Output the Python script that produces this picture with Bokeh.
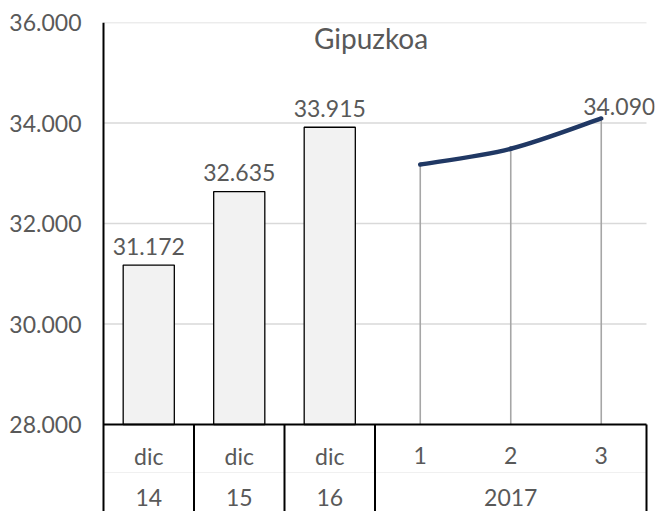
from bokeh.plotting import figure
from bokeh.models import FactorRange, Range1d, FixedTicker, ColumnDataSource
from bokeh.core.properties import value
from bokeh.embed import file_html
from bokeh.resources import INLINE

# ---------------- data ----------------
outer_groups = ["14", "15", "16", "2017"]
bar_inner = ["dic", "dic", "dic"]
bar_groups = ["14", "15", "16"]
bar_values = [31172, 32635, 33915]
line_inner = ["1", "2", "3"]
line_group = "2017"
line_values = [33174, 33487, 34090]
y_ticks = [28000, 30000, 32000, 34000, 36000]
y_tick_labels = ["28.000", "30.000", "32.000", "34.000", "36.000"]
title_text = "Gipuzkoa"

# ---------------- style ----------------
FONT = "Lato"
TXT = "#595959"
LBL_SIZE = "23px"
bar_factors = [(g, i) for g, i in zip(bar_groups, bar_inner)]
line_factors = [(line_group, i) for i in line_inner]
factors = bar_factors + line_factors

def fmt(v):
    return f"{v:,}".replace(",", ".")

y_min, y_max = y_ticks[0], y_ticks[-1]
frame_h = 489
px_per_unit = 402 / (y_max - y_min)
y_start = y_max - frame_h / px_per_unit
row1_y = y_min - 31 / px_per_unit
row2_y = y_min - 73 / px_per_unit
row_sep_y = y_min - 48 / px_per_unit

cat_px = 543 / len(factors)      # pixel width of one category
pad_px = 8                       # room so the last label is not clipped
x_left = list(factors[0]) + [-0.5]
x_right = list(factors[-1]) + [0.5]

p = figure(width=669, height=511,
           x_range=FactorRange(factors=factors, factor_padding=0, group_padding=0,
                               subgroup_padding=0, range_padding=pad_px / cat_px,
                               range_padding_units="absolute"),
           y_range=Range1d(y_start, y_max),
           output_backend="svg", toolbar_location=None, x_axis_location=None,
           min_border_left=103 - pad_px, min_border_right=23 - pad_px,
           min_border_top=22, min_border_bottom=0)
p.outline_line_color = None
p.background_fill_color = "white"
p.border_fill_color = "white"
p.xgrid.visible = False
p.ygrid.visible = False

# y axis (labels only; line drawn at the first category edge)
p.yaxis.ticker = FixedTicker(ticks=y_ticks)
p.yaxis.major_label_overrides = {t: l for t, l in zip(y_ticks, y_tick_labels)}
p.yaxis.major_tick_out = 0
p.yaxis.major_tick_in = 0
p.yaxis.minor_tick_line_color = None
p.yaxis.axis_line_color = None
p.yaxis.major_label_standoff = 22 - pad_px
p.yaxis.major_label_text_font = FONT
p.yaxis.major_label_text_font_size = LBL_SIZE
p.yaxis.major_label_text_color = TXT

# horizontal gridlines
gt = y_ticks[1:]
p.segment(x0=[x_left] * len(gt), y0=gt, x1=[x_right] * len(gt), y1=gt,
          line_color="#d9d9d9", line_width=1.5)

# table faint row separator
p.segment(x0=[x_left], y0=[row_sep_y], x1=[x_right], y1=[row_sep_y],
          line_color="#f0f0f0", line_width=1)

# bars
bsrc = ColumnDataSource(dict(x=bar_factors, top=bar_values,
                             lbl=[fmt(v) for v in bar_values]))
p.vbar(x="x", top="top", bottom=y_min, width=0.565, source=bsrc,
       fill_color="#f2f2f2", line_color="black", line_width=1.3)
p.text(x="x", y="top", text="lbl", source=bsrc, text_align="center",
       text_baseline="alphabetic", y_offset=-19, text_font=value(FONT),
       text_font_size=LBL_SIZE, text_color=TXT)

# drop lines
lsrc = ColumnDataSource(dict(x=line_factors, y=line_values))
p.segment(x0="x", y0=y_min, x1="x", y1="y", source=lsrc,
          line_color="#a6a6a6", line_width=1.6)

# smooth line (Catmull-Rom through the data points)
n = len(line_values)
bz = dict(x0=[], y0=[], x1=[], y1=[], cx0=[], cy0=[], cx1=[], cy1=[])
for i in range(n - 1):
    pr = max(i - 1, 0)
    nx = min(i + 2, n - 1)
    bz["x0"].append(list(line_factors[i]))
    bz["y0"].append(line_values[i])
    bz["x1"].append(list(line_factors[i + 1]))
    bz["y1"].append(line_values[i + 1])
    bz["cx0"].append(list(line_factors[i]) + [((i + 1) - pr) / 6])
    bz["cy0"].append(line_values[i] + (line_values[i + 1] - line_values[pr]) / 6)
    bz["cx1"].append(list(line_factors[i + 1]) + [-(nx - i) / 6])
    bz["cy1"].append(line_values[i + 1] - (line_values[nx] - line_values[i]) / 6)
p.bezier(x0="x0", y0="y0", x1="x1", y1="y1", cx0="cx0", cy0="cy0",
         cx1="cx1", cy1="cy1", source=ColumnDataSource(bz),
         line_color="#203864", line_width=4.5, line_cap="round")

# last point label
p.text(x=[line_factors[-1]], y=[line_values[-1]], text=[fmt(line_values[-1])],
       text_align="center", text_baseline="alphabetic", x_offset=18, y_offset=-12,
       text_font=value(FONT), text_font_size=LBL_SIZE, text_color=TXT)

# x axis line at base and y axis line
p.segment(x0=[x_left], y0=[y_min], x1=[x_right], y1=[y_min],
          line_color="black", line_width=2)
p.segment(x0=[x_left], y0=[y_start], x1=[x_left], y1=[y_max],
          line_color="black", line_width=2)

# category table: separators and labels
sep_x = []
for g in outer_groups:
    members = [f for f in factors if f[0] == g]
    sep_x.append(list(members[-1]) + [0.5])
p.segment(x0=sep_x, y0=[y_start] * len(sep_x), x1=sep_x, y1=[y_min] * len(sep_x),
          line_color="black", line_width=2)

p.text(x=factors, y=[row1_y] * len(factors), text=[f[1] for f in factors],
       text_align="center", text_baseline="middle", text_font=value(FONT),
       text_font_size=LBL_SIZE, text_color=TXT)
outer_x = []
for g in outer_groups:
    members = [f for f in factors if f[0] == g]
    outer_x.append(members[len(members) // 2])
p.text(x=outer_x, y=[row2_y] * len(outer_x), text=outer_groups,
       text_align="center", text_baseline="middle", text_font=value(FONT),
       text_font_size=LBL_SIZE, text_color=TXT)

# title
mid = factors[len(factors) // 2 - 1]
p.text(x=[list(mid) + [0.5]], y=[y_max], text=[title_text], text_align="center",
       text_baseline="middle", x_offset=-4, y_offset=15, text_font=value(FONT),
       text_font_size="28px", text_color=TXT)

open("out.html", "w").write(file_html(p, INLINE))
